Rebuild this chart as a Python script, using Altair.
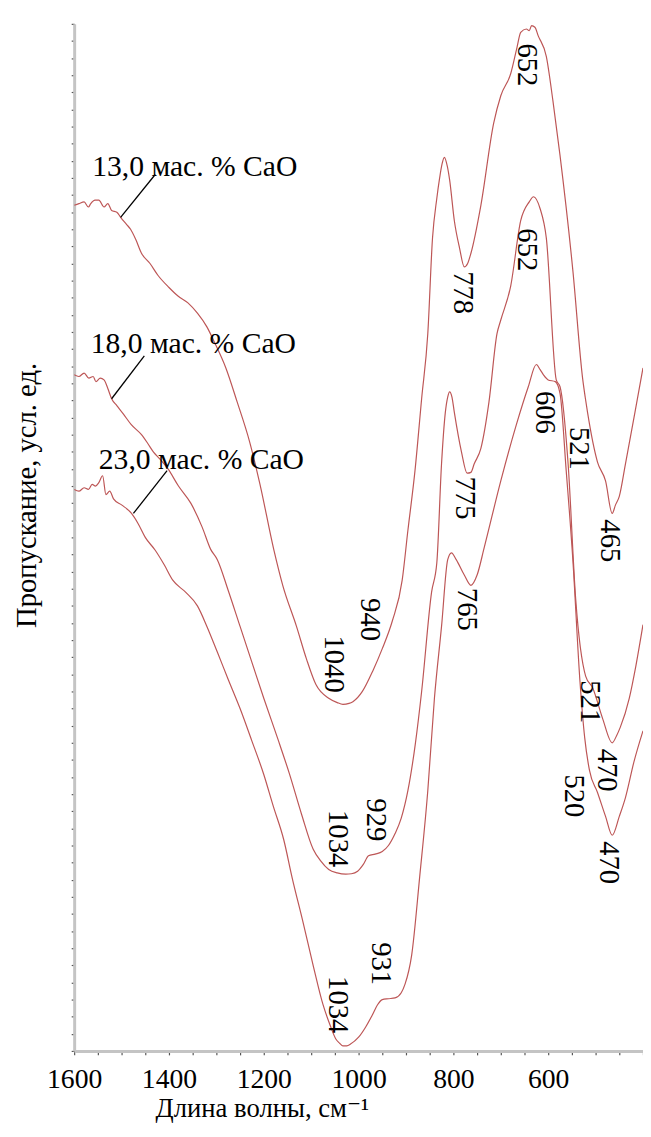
import altair as alt
import pandas as pd

series_names = ["13,0 мас. % CaO", "18,0 мас. % CaO", "23,0 мас. % CaO"]

# wavenumber (cm-1) and transmittance (arb. units)
wn_13 = [1600, 1590, 1579, 1570, 1565, 1556, 1548, 1537, 1529, 1521, 1510, 1502, 1490, 1481, 1470, 1458,
         1440, 1423, 1400, 1381, 1360, 1340, 1320, 1304, 1280, 1256, 1230, 1208, 1179, 1160, 1131, 1110,
         1090, 1063, 1045, 1033, 1020, 1012, 992, 970, 950, 929, 908, 896, 881, 867, 854, 844, 835, 829,
         824, 819, 813, 808, 798, 787, 777, 770, 763, 742, 715, 700, 679, 666, 658, 646, 640, 635, 628,
         621, 604, 590, 575, 548, 527, 522, 517, 496, 479, 465, 458, 450, 437, 417, 400]
t_13 = [49.4, 49.5, 49.6, 49.3, 49.5, 49.7, 49.7, 49.3, 49.5, 49.1, 49.0, 48.7, 48.3, 48.0, 47.4, 46.6,
        46.0, 45.3, 44.6, 44.1, 43.7, 43.1, 42.3, 41.4, 39.9, 37.9, 35.6, 33.1, 29.3, 27.2, 24.8, 22.9,
        21.4, 20.6, 20.35, 20.25, 20.3, 20.4, 21.0, 22.2, 23.5, 25.1, 27.5, 30.4, 33.9, 38.1, 41.9, 47.5,
        49.8, 51.0, 51.8, 52.2, 51.7, 50.9, 48.5, 46.9, 45.8, 46.0, 46.6, 49.4, 54.2, 55.8, 57.1, 58.6,
        59.5, 59.7, 59.6, 59.9, 59.8, 59.3, 58.1, 55.5, 52.3, 45.6, 39.2, 38.2, 37.3, 34.4, 33.3, 31.4,
        31.9, 32.4, 34.3, 37.3, 39.9]

wn_18 = [1600, 1590, 1579, 1569, 1560, 1554, 1545, 1537, 1529, 1521, 1510, 1496, 1480, 1458, 1445, 1433,
         1420, 1402, 1380, 1354, 1330, 1312, 1298, 1275, 1250, 1225, 1200, 1170, 1146, 1120, 1096, 1080,
         1063, 1045, 1027, 1015, 1002, 990, 979, 965, 950, 937, 923, 910, 896, 880, 867, 846, 835, 825, 817,
         812, 808, 803, 798, 783, 771, 763, 756, 742, 725, 708, 700, 679, 658, 640, 631, 617, 604, 583,
         575, 558, 542, 521, 506, 485, 465, 456, 448, 429, 415, 400]
t_18 = [39.5, 39.4, 39.6, 39.3, 39.4, 39.1, 39.3, 39.2, 38.7, 38.1, 37.7, 37.2, 36.6, 36.0, 35.5, 35.0,
        34.6, 34.0, 33.0, 32.0, 30.6, 29.3, 28.7, 26.9, 24.8, 22.7, 20.6, 18.2, 16.2, 13.8, 11.8, 11.1,
        10.6, 10.4, 10.33, 10.35, 10.5, 10.9, 11.4, 11.5, 11.65, 12.0, 12.7, 13.6, 15.2, 18.0, 21.0, 26.8,
        28.5, 34.3, 37.3, 38.2, 38.5, 38.2, 37.3, 35.0, 33.75, 33.8, 34.3, 35.2, 37.9, 41.9, 42.7, 44.7,
        48.5, 49.6, 49.9, 49.2, 47.5, 39.2, 38.8, 34.3, 26.4, 21.9, 21.2, 19.4, 18.0, 18.4, 18.9, 20.6,
        22.5, 24.9]

wn_23 = [1600, 1590, 1579, 1570, 1562, 1555, 1548, 1540, 1533, 1525, 1517, 1500, 1479, 1465, 1450, 1429,
         1410, 1392, 1365, 1340, 1320, 1298, 1275, 1250, 1225, 1200, 1180, 1158, 1140, 1117, 1095, 1075,
         1060, 1048, 1040, 1033, 1025, 1017, 1000, 985, 971, 960, 950, 937, 923, 910, 902, 888, 871, 854,
         840, 825, 812, 804, 794, 777, 763, 750, 735, 700, 667, 642, 625, 617, 610, 600, 585, 575, 562,
         548, 533, 523, 513, 496, 479, 465, 450, 437, 419, 400]
t_23 = [32.8, 32.7, 32.9, 32.8, 33.1, 33.0, 33.2, 33.6, 32.5, 32.7, 32.25, 31.9, 31.4, 30.8, 30.0, 29.25,
        28.4, 27.5, 26.8, 26.0, 24.8, 23.3, 21.7, 20.0, 18.1, 16.15, 14.3, 12.35, 10.1, 7.5, 4.9, 2.7,
        1.5, 0.7, 0.45, 0.29, 0.3, 0.4, 0.8, 1.4, 2.1, 2.7, 3.0, 3.05, 3.1, 3.4, 3.9, 5.6, 10.2, 15.2,
        20.6, 24.8, 28.7, 29.1, 28.7, 27.8, 27.2, 27.8, 29.4, 33.3, 36.6, 38.8, 40.1, 39.8, 39.5, 39.2,
        39.1, 38.4, 33.9, 28.7, 21.6, 18.3, 16.4, 15.1, 13.7, 12.6, 13.7, 14.8, 16.9, 18.7]

# peak annotations: text, wavenumber position, transmittance position
ann_text = ["652", "778", "652", "606", "521", "465", "775", "765", "940", "1040",
            "929", "1034", "931", "1034", "521", "470", "520", "470"]
ann_wn = [646, 779, 644, 606, 535, 469, 775, 771, 977, 1052,
          963, 1044, 954, 1044, 513, 477, 546, 471]
ann_t = [57.6, 44.3, 46.8, 37.3, 35.2, 29.8, 32.3, 25.8, 25.2, 22.6,
         13.5, 12.4, 5.1, 2.7, 20.4, 16.4, 14.9, 11.0]

# sample labels and their leader lines
label_wn = [1562, 1565, 1548]
label_t = [51.1, 40.8, 34.0]
leader_wn_start = [1429, 1452, 1404]
leader_t_start = [51.2, 40.6, 33.9]
leader_wn_end = [1502, 1521, 1475]
leader_t_end = [48.7, 38.1, 31.4]

x_ticks = list(range(400, 1601, 50))
y_ticks = list(range(0, 61))

rows = []
for name, wn, t in zip(series_names, [wn_13, wn_18, wn_23], [t_13, t_18, t_23]):
    for w, v in zip(wn, t):
        rows.append({"series": name, "wn": w, "t": v})
df = pd.DataFrame(rows)

df_ann = pd.DataFrame({"text": ann_text, "wn": ann_wn, "t": ann_t})
df_lab = pd.DataFrame({"text": series_names, "wn": label_wn, "t": label_t})
df_lead = pd.DataFrame({"wn": leader_wn_start, "t": leader_t_start,
                        "wn2": leader_wn_end, "t2": leader_t_end})

FONT = "'Liberation Serif', 'Times New Roman', 'DejaVu Serif', serif"

xaxis = alt.Axis(
    values=x_ticks, format="d",
    labelExpr="(datum.value % 200 == 0 && datum.value >= 600) ? format(datum.value, 'd') : ''",
    labelOverlap=False, labelFlush=False, grid=False,
    labelFont=FONT, labelFontSize=28, labelColor="black", labelPadding=11,
    tickSize=4, tickColor="#555555", tickWidth=1.2,
    domainColor="#c4c4c4", domainWidth=3,
    title="Длина волны, см⁻¹", titleFont=FONT, titleFontSize=27, titleFontWeight="normal",
    titleColor="black", titleX=190, titleY=66, titleAlign="center", titleBaseline="alphabetic",
)
yaxis = alt.Axis(
    values=y_ticks, labels=False, grid=False,
    tickSize=3, tickColor="#555555", tickWidth=1.2,
    domainColor="#c4c4c4", domainWidth=3,
    title="Пропускание, усл. ед.", titleFont=FONT, titleFontSize=29, titleFontWeight="normal",
    titleColor="black", titleX=-48, titleY=477, titleAngle=270, titleAlign="center",
    titleBaseline="middle",
)

xs = alt.Scale(domain=[400, 1600], reverse=True, nice=False, zero=False)
ys = alt.Scale(domain=[0, 60], nice=False, zero=False)

X = alt.X("wn:Q", scale=xs, axis=xaxis)
Y = alt.Y("t:Q", scale=ys, axis=yaxis)

lines = alt.Chart(df).mark_line(
    color="#bd5656", strokeWidth=1.2, clip=True, interpolate="monotone"
).encode(
    x=X, y=Y, detail="series:N", order=alt.Order("wn:Q", sort="descending")
)

ann = alt.Chart(df_ann).mark_text(
    angle=90, font=FONT, fontSize=29, align="center", baseline="middle", color="black"
).encode(x=X, y=Y, text="text:N")

labs = alt.Chart(df_lab).mark_text(
    font=FONT, fontSize=30, align="left", baseline="alphabetic", color="black"
).encode(x=X, y=Y, text="text:N")

leads = alt.Chart(df_lead).mark_rule(color="black", strokeWidth=1.3).encode(
    x=X, y=Y, x2="wn2:Q", y2="t2:Q"
)

chart = alt.layer(lines, leads, labs, ann).properties(
    width=576, height=1040,
    padding={"left": 67, "top": 9, "right": 0, "bottom": 72},
    autosize="none",
    background="white",
).configure_view(stroke=None)

chart.save("out.html", embed_options={"renderer": "svg", "actions": False})
